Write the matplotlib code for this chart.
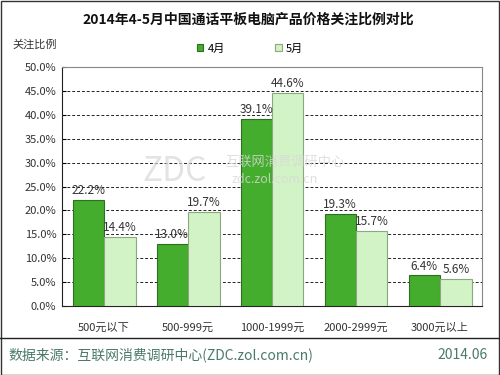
import matplotlib
matplotlib.use("Agg")
import matplotlib.pyplot as plt
import numpy as np

plt.rcParams['font.family'] = ['Noto Sans CJK SC', 'DejaVu Sans']

categories = ["500元以下", "500-999元", "1000-1999元", "2000-2999元", "3000元以上"]
apr = [22.2, 13.0, 39.1, 19.3, 6.4]
may = [14.4, 19.7, 44.6, 15.7, 5.6]
series_names = ["4月", "5月"]
yticks = [0, 5, 10, 15, 20, 25, 30, 35, 40, 45, 50]

fig = plt.figure(figsize=(5, 3.75), dpi=100)
fig.patch.set_facecolor("white")
ax = fig.add_axes([0.124, 0.184, 0.84, 0.637])

x = np.arange(len(categories))
w = 0.37
off = 0.19
c_apr = "#45ad2e"
c_may = "#d2f3c6"
b1 = ax.bar(x - off, apr, w, color=c_apr, edgecolor="#2f6e22", linewidth=0.8, label=series_names[0], zorder=3)
b2 = ax.bar(x + off, may, w, color=c_may, edgecolor="#8aa882", linewidth=0.8, label=series_names[1], zorder=3)

for xi, v in zip(x - off, apr):
    ax.text(xi, v + 0.6, f"{v:.1f}%", ha="center", va="bottom", fontsize=8.5, color="#333333", zorder=4)
for xi, v in zip(x + off, may):
    ax.text(xi, v + 0.6, f"{v:.1f}%", ha="center", va="bottom", fontsize=8.5, color="#333333", zorder=4)

ax.set_xlim(-0.5, len(categories) - 0.5)
ax.set_ylim(0, 50)
ax.set_yticks(yticks)
ax.set_yticklabels([f"{t:.1f}%" for t in yticks], fontsize=8, color="#333333")
ax.set_xticks(x)
ax.set_xticklabels(categories, fontsize=8, color="#333333")
ax.tick_params(axis="x", length=0, pad=12)
ax.tick_params(axis="y", length=3, direction="in", pad=4)
ax.yaxis.grid(True, linestyle=(0, (3, 2)), color="#222222", linewidth=0.7, zorder=0)
ax.set_axisbelow(True)
for s in ["top", "right"]:
    ax.spines[s].set_color("#888888")
    ax.spines[s].set_linewidth(0.8)
for s in ["left", "bottom"]:
    ax.spines[s].set_color("#222222")
    ax.spines[s].set_linewidth(0.8)

# watermark
ax.text(0.84, 28.2, "ZDC", fontsize=24, color="#d8d8d8", ha="center", va="center", zorder=4, alpha=0.7)
ax.text(1.45, 30.0, "互联网消费调研中心", fontsize=9.5, color="#d8d8d8", ha="left", va="center", zorder=4, alpha=0.8)
ax.text(1.52, 26.4, "zdc.zol.com.cn", fontsize=9, color="#d8d8d8", ha="left", va="center", zorder=4, alpha=0.8)

fig.text(0.496, 0.947, "2014年4-5月中国通话平板电脑产品价格关注比例对比", ha="center", va="center",
         fontsize=10, fontweight="bold", color="#111111")
fig.text(0.024, 0.88, "关注比例", ha="left", va="center", fontsize=8, color="#333333")

leg = fig.legend(handles=[b1, b2], labels=series_names, loc="center", bbox_to_anchor=(0.5, 0.87),
                 ncol=2, frameon=False, fontsize=8, handlelength=0.6, handleheight=0.6,
                 columnspacing=4.5, handletextpad=0.4)

fig.add_artist(plt.Line2D([0, 1], [1 - 338 / 375, 1 - 338 / 375], color="#222222", linewidth=1.0))
fig.text(0.016, 0.053, "数据来源：互联网消费调研中心(ZDC.zol.com.cn)", ha="left", va="center",
         fontsize=10, color="#4a7a6a")
fig.text(0.976, 0.053, "2014.06", ha="right", va="center", fontsize=10, color="#4a7a6a")

fig.add_artist(plt.Rectangle((0.001, 0.001), 0.997, 0.997, fill=False, edgecolor="#333333",
                             linewidth=1.0, transform=fig.transFigure))

fig.savefig("out.png", dpi=100, facecolor="white")
